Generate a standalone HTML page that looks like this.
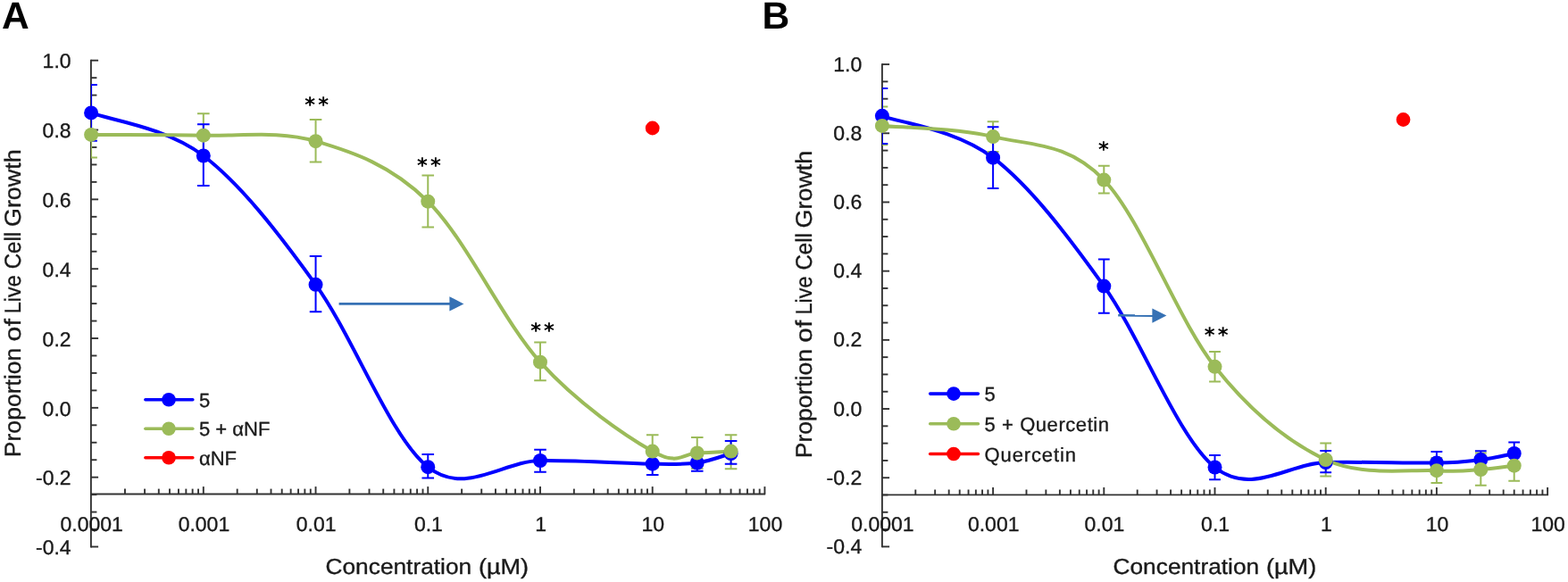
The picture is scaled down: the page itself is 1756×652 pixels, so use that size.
<!DOCTYPE html>
<html><head><meta charset="utf-8"><title>Proportion of Live Cell Growth</title>
<style>html,body{margin:0;padding:0;background:#fff;}svg{display:block;}</style></head>
<body><svg width="1756" height="652" viewBox="0 0 1756 652" text-rendering="geometricPrecision">
<style>.w{stroke:#1a1a1a;stroke-width:0.35px}</style>
<rect width="1756" height="652" fill="#fff"/>
<g stroke="#333333" stroke-width="1.9" fill="none"><line x1="101.90" y1="66.75" x2="101.90" y2="613.45"/><line x1="101.90" y1="67.70" x2="110.10" y2="67.70"/><line x1="101.90" y1="87.16" x2="108.40" y2="87.16"/><line x1="101.90" y1="106.61" x2="108.40" y2="106.61"/><line x1="101.90" y1="126.07" x2="108.40" y2="126.07"/><line x1="101.90" y1="145.53" x2="110.10" y2="145.53"/><line x1="101.90" y1="164.99" x2="108.40" y2="164.99"/><line x1="101.90" y1="184.44" x2="108.40" y2="184.44"/><line x1="101.90" y1="203.90" x2="108.40" y2="203.90"/><line x1="101.90" y1="223.36" x2="110.10" y2="223.36"/><line x1="101.90" y1="242.81" x2="108.40" y2="242.81"/><line x1="101.90" y1="262.27" x2="108.40" y2="262.27"/><line x1="101.90" y1="281.73" x2="108.40" y2="281.73"/><line x1="101.90" y1="301.19" x2="110.10" y2="301.19"/><line x1="101.90" y1="320.64" x2="108.40" y2="320.64"/><line x1="101.90" y1="340.10" x2="108.40" y2="340.10"/><line x1="101.90" y1="359.56" x2="108.40" y2="359.56"/><line x1="101.90" y1="379.01" x2="110.10" y2="379.01"/><line x1="101.90" y1="398.47" x2="108.40" y2="398.47"/><line x1="101.90" y1="417.93" x2="108.40" y2="417.93"/><line x1="101.90" y1="437.39" x2="108.40" y2="437.39"/><line x1="101.90" y1="456.84" x2="110.10" y2="456.84"/><line x1="101.90" y1="476.30" x2="108.40" y2="476.30"/><line x1="101.90" y1="495.76" x2="108.40" y2="495.76"/><line x1="101.90" y1="515.21" x2="108.40" y2="515.21"/><line x1="101.90" y1="534.67" x2="110.10" y2="534.67"/><line x1="101.90" y1="554.13" x2="108.40" y2="554.13"/><line x1="101.90" y1="573.59" x2="108.40" y2="573.59"/><line x1="101.90" y1="593.04" x2="108.40" y2="593.04"/><line x1="101.90" y1="612.50" x2="110.10" y2="612.50"/><line x1="101.90" y1="553.50" x2="857.15" y2="553.50"/><line x1="139.95" y1="553.50" x2="139.95" y2="547.60"/><line x1="162.08" y1="553.50" x2="162.08" y2="547.60"/><line x1="177.79" y1="553.50" x2="177.79" y2="547.60"/><line x1="189.97" y1="553.50" x2="189.97" y2="547.60"/><line x1="199.93" y1="553.50" x2="199.93" y2="547.60"/><line x1="208.35" y1="553.50" x2="208.35" y2="547.60"/><line x1="215.64" y1="553.50" x2="215.64" y2="547.60"/><line x1="222.07" y1="553.50" x2="222.07" y2="547.60"/><line x1="227.82" y1="553.50" x2="227.82" y2="545.10"/><line x1="265.67" y1="553.50" x2="265.67" y2="547.60"/><line x1="287.80" y1="553.50" x2="287.80" y2="547.60"/><line x1="303.51" y1="553.50" x2="303.51" y2="547.60"/><line x1="315.69" y1="553.50" x2="315.69" y2="547.60"/><line x1="325.65" y1="553.50" x2="325.65" y2="547.60"/><line x1="334.07" y1="553.50" x2="334.07" y2="547.60"/><line x1="341.36" y1="553.50" x2="341.36" y2="547.60"/><line x1="347.79" y1="553.50" x2="347.79" y2="547.60"/><line x1="353.54" y1="553.50" x2="353.54" y2="545.10"/><line x1="391.39" y1="553.50" x2="391.39" y2="547.60"/><line x1="413.52" y1="553.50" x2="413.52" y2="547.60"/><line x1="429.23" y1="553.50" x2="429.23" y2="547.60"/><line x1="441.41" y1="553.50" x2="441.41" y2="547.60"/><line x1="451.37" y1="553.50" x2="451.37" y2="547.60"/><line x1="459.79" y1="553.50" x2="459.79" y2="547.60"/><line x1="467.08" y1="553.50" x2="467.08" y2="547.60"/><line x1="473.51" y1="553.50" x2="473.51" y2="547.60"/><line x1="479.26" y1="553.50" x2="479.26" y2="545.10"/><line x1="517.11" y1="553.50" x2="517.11" y2="547.60"/><line x1="539.24" y1="553.50" x2="539.24" y2="547.60"/><line x1="554.95" y1="553.50" x2="554.95" y2="547.60"/><line x1="567.13" y1="553.50" x2="567.13" y2="547.60"/><line x1="577.09" y1="553.50" x2="577.09" y2="547.60"/><line x1="585.51" y1="553.50" x2="585.51" y2="547.60"/><line x1="592.80" y1="553.50" x2="592.80" y2="547.60"/><line x1="599.23" y1="553.50" x2="599.23" y2="547.60"/><line x1="604.98" y1="553.50" x2="604.98" y2="545.10"/><line x1="642.83" y1="553.50" x2="642.83" y2="547.60"/><line x1="664.96" y1="553.50" x2="664.96" y2="547.60"/><line x1="680.67" y1="553.50" x2="680.67" y2="547.60"/><line x1="692.85" y1="553.50" x2="692.85" y2="547.60"/><line x1="702.81" y1="553.50" x2="702.81" y2="547.60"/><line x1="711.23" y1="553.50" x2="711.23" y2="547.60"/><line x1="718.52" y1="553.50" x2="718.52" y2="547.60"/><line x1="724.95" y1="553.50" x2="724.95" y2="547.60"/><line x1="730.70" y1="553.50" x2="730.70" y2="545.10"/><line x1="768.55" y1="553.50" x2="768.55" y2="547.60"/><line x1="790.68" y1="553.50" x2="790.68" y2="547.60"/><line x1="806.39" y1="553.50" x2="806.39" y2="547.60"/><line x1="818.57" y1="553.50" x2="818.57" y2="547.60"/><line x1="828.53" y1="553.50" x2="828.53" y2="547.60"/><line x1="836.95" y1="553.50" x2="836.95" y2="547.60"/><line x1="844.24" y1="553.50" x2="844.24" y2="547.60"/><line x1="850.67" y1="553.50" x2="850.67" y2="547.60"/><line x1="856.42" y1="553.50" x2="856.42" y2="545.10"/></g>
<g class="w" font-family="'Liberation Sans', Arial, sans-serif" font-size="22.6" fill="#1a1a1a"><text x="79.60" y="76.40" text-anchor="end" textLength="31.97" lengthAdjust="spacingAndGlyphs">1.0</text><text x="79.60" y="154.23" text-anchor="end" textLength="31.97" lengthAdjust="spacingAndGlyphs">0.8</text><text x="79.60" y="232.06" text-anchor="end" textLength="31.97" lengthAdjust="spacingAndGlyphs">0.6</text><text x="79.60" y="309.89" text-anchor="end" textLength="31.97" lengthAdjust="spacingAndGlyphs">0.4</text><text x="79.60" y="387.71" text-anchor="end" textLength="31.97" lengthAdjust="spacingAndGlyphs">0.2</text><text x="79.60" y="465.54" text-anchor="end" textLength="31.97" lengthAdjust="spacingAndGlyphs">0.0</text><text x="79.60" y="543.37" text-anchor="end" textLength="39.63" lengthAdjust="spacingAndGlyphs">-0.2</text><text x="79.60" y="621.20" text-anchor="end" textLength="39.63" lengthAdjust="spacingAndGlyphs">-0.4</text><text x="102.70" y="595.00" text-anchor="middle" textLength="70.33" lengthAdjust="spacingAndGlyphs">0.0001</text><text x="228.42" y="595.00" text-anchor="middle" textLength="57.55" lengthAdjust="spacingAndGlyphs">0.001</text><text x="354.14" y="595.00" text-anchor="middle" textLength="44.76" lengthAdjust="spacingAndGlyphs">0.01</text><text x="479.86" y="595.00" text-anchor="middle" textLength="31.97" lengthAdjust="spacingAndGlyphs">0.1</text><text x="605.58" y="595.00" text-anchor="middle" textLength="12.79" lengthAdjust="spacingAndGlyphs">1</text><text x="731.30" y="595.00" text-anchor="middle" textLength="25.58" lengthAdjust="spacingAndGlyphs">10</text><text x="857.02" y="595.00" text-anchor="middle" textLength="38.36" lengthAdjust="spacingAndGlyphs">100</text></g>
<text class="w" x="364.50" y="643.30" font-family="'Liberation Sans', Arial, sans-serif" font-size="24.5" fill="#1a1a1a" textLength="163.70" lengthAdjust="spacingAndGlyphs">Concentration</text>
<text class="w" x="535.90" y="643.30" font-family="'Liberation Sans', Arial, sans-serif" font-size="24.5" fill="#1a1a1a" textLength="56.20" lengthAdjust="spacingAndGlyphs">(µM)</text>
<text class="w" transform="translate(23.00,512.20) rotate(-90)" x="0" y="0" font-family="'Liberation Sans', Arial, sans-serif" font-size="25.5" fill="#1a1a1a" textLength="122.60" lengthAdjust="spacingAndGlyphs">Proportion</text>
<text class="w" transform="translate(23.00,382.40) rotate(-90)" x="0" y="0" font-family="'Liberation Sans', Arial, sans-serif" font-size="25.5" fill="#1a1a1a" textLength="25.30" lengthAdjust="spacingAndGlyphs">of</text>
<text class="w" transform="translate(23.00,351.20) rotate(-90)" x="0" y="0" font-family="'Liberation Sans', Arial, sans-serif" font-size="25.5" fill="#1a1a1a" textLength="42.90" lengthAdjust="spacingAndGlyphs">Live</text>
<text class="w" transform="translate(23.00,301.30) rotate(-90)" x="0" y="0" font-family="'Liberation Sans', Arial, sans-serif" font-size="25.5" fill="#1a1a1a" textLength="41.50" lengthAdjust="spacingAndGlyphs">Cell</text>
<text class="w" transform="translate(23.00,254.00) rotate(-90)" x="0" y="0" font-family="'Liberation Sans', Arial, sans-serif" font-size="25.5" fill="#1a1a1a" textLength="86.60" lengthAdjust="spacingAndGlyphs">Growth</text>
<text x="2.00" y="31.5" font-family="'Liberation Sans', Arial, sans-serif" font-size="42.5" font-weight="bold" fill="#000">A</text>
<clipPath id="clipA"><rect x="101.90" y="0" width="764.30" height="652"/></clipPath>
<path d="M102.10,126.40 C123.05,134.42 185.91,142.43 227.82,174.50 C269.73,206.57 311.63,260.68 353.54,318.80 C395.45,376.92 437.35,490.33 479.26,523.20 C521.17,556.07 563.07,516.58 604.98,516.00 C646.89,515.42 701.41,519.28 730.70,519.70 C759.99,520.12 766.08,520.45 780.73,518.50 C795.37,516.55 812.27,509.75 818.57,508.00" stroke="#0000ff" stroke-width="4" fill="none" stroke-linejoin="round"/>
<path d="M102.10,150.90 C123.05,151.03 185.91,150.48 227.82,151.70 C269.73,152.92 311.63,145.87 353.54,158.20 C395.45,170.53 437.35,184.45 479.26,225.70 C521.17,266.95 563.07,359.05 604.98,405.70 C646.89,452.35 701.41,488.65 730.70,505.60 C759.99,522.55 766.08,507.40 780.73,507.40 C795.37,507.40 812.27,505.90 818.57,505.60" stroke="#9bbb59" stroke-width="4" fill="none" stroke-linejoin="round"/>
<path d="M102.10,125.30V176.50M95.30,125.30H108.90M95.30,176.50H108.90M227.82,127.20V176.20M221.02,127.20H234.62M221.02,176.20H234.62M353.54,134.10V181.40M346.74,134.10H360.34M346.74,181.40H360.34M479.26,196.50V254.50M472.46,196.50H486.06M472.46,254.50H486.06M604.98,383.40V426.30M598.18,383.40H611.78M598.18,426.30H611.78M730.70,487.20V524.00M723.90,487.20H737.50M723.90,524.00H737.50M780.73,490.00V524.80M773.93,490.00H787.53M773.93,524.80H787.53M818.57,487.20V525.20M811.77,487.20H825.37M811.77,525.20H825.37" stroke="#9bbb59" stroke-width="2" fill="none" clip-path="url(#clipA)"/>
<path d="M102.10,95.00V157.80M95.30,95.00H108.90M95.30,157.80H108.90M227.82,139.25V208.05M221.02,139.25H234.62M221.02,208.05H234.62M353.54,286.95V349.35M346.74,286.95H360.34M346.74,349.35H360.34M479.26,509.00V535.60M472.46,509.00H486.06M472.46,535.60H486.06M604.98,503.65V528.85M598.18,503.65H611.78M598.18,528.85H611.78M730.70,507.40V532.00M723.90,507.40H737.50M723.90,532.00H737.50M780.73,509.30V527.70M773.93,509.30H787.53M773.93,527.70H787.53M818.57,494.05V519.75M811.77,494.05H825.37M811.77,519.75H825.37" stroke="#0000ff" stroke-width="2" fill="none" clip-path="url(#clipA)"/>
<circle cx="102.10" cy="126.40" r="8" fill="#0000ff"/>
<circle cx="227.82" cy="174.50" r="8" fill="#0000ff"/>
<circle cx="353.54" cy="318.80" r="8" fill="#0000ff"/>
<circle cx="479.26" cy="523.20" r="8" fill="#0000ff"/>
<circle cx="604.98" cy="516.00" r="8" fill="#0000ff"/>
<circle cx="730.70" cy="519.70" r="8" fill="#0000ff"/>
<circle cx="780.73" cy="518.50" r="8" fill="#0000ff"/>
<circle cx="818.57" cy="508.00" r="8" fill="#0000ff"/>
<circle cx="102.10" cy="150.90" r="8" fill="#9bbb59"/>
<circle cx="227.82" cy="151.70" r="8" fill="#9bbb59"/>
<circle cx="353.54" cy="158.20" r="8" fill="#9bbb59"/>
<circle cx="479.26" cy="225.70" r="8" fill="#9bbb59"/>
<circle cx="604.98" cy="405.70" r="8" fill="#9bbb59"/>
<circle cx="730.70" cy="505.60" r="8" fill="#9bbb59"/>
<circle cx="780.73" cy="507.40" r="8" fill="#9bbb59"/>
<circle cx="818.57" cy="505.60" r="8" fill="#9bbb59"/>
<circle cx="730.70" cy="143.50" r="7.9" fill="#ff0000"/>
<line x1="162.90" y1="447.80" x2="215.80" y2="447.80" stroke="#0000ff" stroke-width="3.6" stroke-linecap="round"/>
<circle cx="189.00" cy="447.80" r="7.8" fill="#0000ff"/>
<text class="w" x="223.00" y="455.80" font-family="'Liberation Sans', Arial, sans-serif" font-size="22" fill="#1a1a1a">5</text>
<line x1="162.90" y1="480.30" x2="215.80" y2="480.30" stroke="#9bbb59" stroke-width="3.6" stroke-linecap="round"/>
<circle cx="189.00" cy="480.30" r="7.8" fill="#9bbb59"/>
<text class="w" x="223.00" y="488.30" font-family="'Liberation Sans', Arial, sans-serif" font-size="22" fill="#1a1a1a">5 + αNF</text>
<line x1="162.90" y1="512.80" x2="215.80" y2="512.80" stroke="#ff0000" stroke-width="3.6" stroke-linecap="round"/>
<circle cx="189.00" cy="512.80" r="7.8" fill="#ff0000"/>
<text class="w" x="223.00" y="520.80" font-family="'Liberation Sans', Arial, sans-serif" font-size="22" fill="#1a1a1a">αNF</text>
<line x1="379.60" y1="340.40" x2="504.40" y2="340.40" stroke="#3671b4" stroke-width="2.6"/>
<path d="M503.40,332.20 L519.40,340.40 L503.40,348.60 Z" fill="#3671b4"/>
<text x="347.10 362.20" y="124.80" font-family="'DejaVu Sans', sans-serif" font-weight="bold" font-size="22.5" fill="#000" text-anchor="middle">**</text>
<text x="473.00 487.90" y="192.50" font-family="'DejaVu Sans', sans-serif" font-weight="bold" font-size="22.5" fill="#000" text-anchor="middle">**</text>
<text x="600.10 614.90" y="377.80" font-family="'DejaVu Sans', sans-serif" font-weight="bold" font-size="22.5" fill="#000" text-anchor="middle">**</text>
<g stroke="#333333" stroke-width="1.9" fill="none"><line x1="987.90" y1="71.15" x2="987.90" y2="613.35"/><line x1="987.90" y1="72.10" x2="996.10" y2="72.10"/><line x1="987.90" y1="91.40" x2="994.40" y2="91.40"/><line x1="987.90" y1="110.69" x2="994.40" y2="110.69"/><line x1="987.90" y1="129.99" x2="994.40" y2="129.99"/><line x1="987.90" y1="149.29" x2="996.10" y2="149.29"/><line x1="987.90" y1="168.58" x2="994.40" y2="168.58"/><line x1="987.90" y1="187.88" x2="994.40" y2="187.88"/><line x1="987.90" y1="207.18" x2="994.40" y2="207.18"/><line x1="987.90" y1="226.47" x2="996.10" y2="226.47"/><line x1="987.90" y1="245.77" x2="994.40" y2="245.77"/><line x1="987.90" y1="265.06" x2="994.40" y2="265.06"/><line x1="987.90" y1="284.36" x2="994.40" y2="284.36"/><line x1="987.90" y1="303.66" x2="996.10" y2="303.66"/><line x1="987.90" y1="322.95" x2="994.40" y2="322.95"/><line x1="987.90" y1="342.25" x2="994.40" y2="342.25"/><line x1="987.90" y1="361.55" x2="994.40" y2="361.55"/><line x1="987.90" y1="380.84" x2="996.10" y2="380.84"/><line x1="987.90" y1="400.14" x2="994.40" y2="400.14"/><line x1="987.90" y1="419.44" x2="994.40" y2="419.44"/><line x1="987.90" y1="438.73" x2="994.40" y2="438.73"/><line x1="987.90" y1="458.03" x2="996.10" y2="458.03"/><line x1="987.90" y1="477.33" x2="994.40" y2="477.33"/><line x1="987.90" y1="496.62" x2="994.40" y2="496.62"/><line x1="987.90" y1="515.92" x2="994.40" y2="515.92"/><line x1="987.90" y1="535.21" x2="996.10" y2="535.21"/><line x1="987.90" y1="554.51" x2="994.40" y2="554.51"/><line x1="987.90" y1="573.81" x2="994.40" y2="573.81"/><line x1="987.90" y1="593.10" x2="994.40" y2="593.10"/><line x1="987.90" y1="612.40" x2="996.10" y2="612.40"/><line x1="987.90" y1="554.40" x2="1734.05" y2="554.40"/><line x1="1025.29" y1="554.40" x2="1025.29" y2="548.50"/><line x1="1047.16" y1="554.40" x2="1047.16" y2="548.50"/><line x1="1062.68" y1="554.40" x2="1062.68" y2="548.50"/><line x1="1074.71" y1="554.40" x2="1074.71" y2="548.50"/><line x1="1084.55" y1="554.40" x2="1084.55" y2="548.50"/><line x1="1092.86" y1="554.40" x2="1092.86" y2="548.50"/><line x1="1100.06" y1="554.40" x2="1100.06" y2="548.50"/><line x1="1106.42" y1="554.40" x2="1106.42" y2="548.50"/><line x1="1112.10" y1="554.40" x2="1112.10" y2="546.00"/><line x1="1149.49" y1="554.40" x2="1149.49" y2="548.50"/><line x1="1171.36" y1="554.40" x2="1171.36" y2="548.50"/><line x1="1186.88" y1="554.40" x2="1186.88" y2="548.50"/><line x1="1198.91" y1="554.40" x2="1198.91" y2="548.50"/><line x1="1208.75" y1="554.40" x2="1208.75" y2="548.50"/><line x1="1217.06" y1="554.40" x2="1217.06" y2="548.50"/><line x1="1224.26" y1="554.40" x2="1224.26" y2="548.50"/><line x1="1230.62" y1="554.40" x2="1230.62" y2="548.50"/><line x1="1236.30" y1="554.40" x2="1236.30" y2="546.00"/><line x1="1273.69" y1="554.40" x2="1273.69" y2="548.50"/><line x1="1295.56" y1="554.40" x2="1295.56" y2="548.50"/><line x1="1311.08" y1="554.40" x2="1311.08" y2="548.50"/><line x1="1323.11" y1="554.40" x2="1323.11" y2="548.50"/><line x1="1332.95" y1="554.40" x2="1332.95" y2="548.50"/><line x1="1341.26" y1="554.40" x2="1341.26" y2="548.50"/><line x1="1348.46" y1="554.40" x2="1348.46" y2="548.50"/><line x1="1354.82" y1="554.40" x2="1354.82" y2="548.50"/><line x1="1360.50" y1="554.40" x2="1360.50" y2="546.00"/><line x1="1397.89" y1="554.40" x2="1397.89" y2="548.50"/><line x1="1419.76" y1="554.40" x2="1419.76" y2="548.50"/><line x1="1435.28" y1="554.40" x2="1435.28" y2="548.50"/><line x1="1447.31" y1="554.40" x2="1447.31" y2="548.50"/><line x1="1457.15" y1="554.40" x2="1457.15" y2="548.50"/><line x1="1465.46" y1="554.40" x2="1465.46" y2="548.50"/><line x1="1472.66" y1="554.40" x2="1472.66" y2="548.50"/><line x1="1479.02" y1="554.40" x2="1479.02" y2="548.50"/><line x1="1484.70" y1="554.40" x2="1484.70" y2="546.00"/><line x1="1522.09" y1="554.40" x2="1522.09" y2="548.50"/><line x1="1543.96" y1="554.40" x2="1543.96" y2="548.50"/><line x1="1559.48" y1="554.40" x2="1559.48" y2="548.50"/><line x1="1571.51" y1="554.40" x2="1571.51" y2="548.50"/><line x1="1581.35" y1="554.40" x2="1581.35" y2="548.50"/><line x1="1589.66" y1="554.40" x2="1589.66" y2="548.50"/><line x1="1596.86" y1="554.40" x2="1596.86" y2="548.50"/><line x1="1603.22" y1="554.40" x2="1603.22" y2="548.50"/><line x1="1608.90" y1="554.40" x2="1608.90" y2="546.00"/><line x1="1646.29" y1="554.40" x2="1646.29" y2="548.50"/><line x1="1668.16" y1="554.40" x2="1668.16" y2="548.50"/><line x1="1683.68" y1="554.40" x2="1683.68" y2="548.50"/><line x1="1695.71" y1="554.40" x2="1695.71" y2="548.50"/><line x1="1705.55" y1="554.40" x2="1705.55" y2="548.50"/><line x1="1713.86" y1="554.40" x2="1713.86" y2="548.50"/><line x1="1721.06" y1="554.40" x2="1721.06" y2="548.50"/><line x1="1727.42" y1="554.40" x2="1727.42" y2="548.50"/><line x1="1733.10" y1="554.40" x2="1733.10" y2="546.00"/></g>
<g class="w" font-family="'Liberation Sans', Arial, sans-serif" font-size="22.6" fill="#1a1a1a"><text x="965.20" y="79.60" text-anchor="end" textLength="31.97" lengthAdjust="spacingAndGlyphs">1.0</text><text x="965.20" y="156.79" text-anchor="end" textLength="31.97" lengthAdjust="spacingAndGlyphs">0.8</text><text x="965.20" y="233.97" text-anchor="end" textLength="31.97" lengthAdjust="spacingAndGlyphs">0.6</text><text x="965.20" y="311.16" text-anchor="end" textLength="31.97" lengthAdjust="spacingAndGlyphs">0.4</text><text x="965.20" y="388.34" text-anchor="end" textLength="31.97" lengthAdjust="spacingAndGlyphs">0.2</text><text x="965.20" y="465.53" text-anchor="end" textLength="31.97" lengthAdjust="spacingAndGlyphs">0.0</text><text x="965.20" y="542.71" text-anchor="end" textLength="39.63" lengthAdjust="spacingAndGlyphs">-0.2</text><text x="965.20" y="619.90" text-anchor="end" textLength="39.63" lengthAdjust="spacingAndGlyphs">-0.4</text><text x="988.50" y="595.00" text-anchor="middle" textLength="70.33" lengthAdjust="spacingAndGlyphs">0.0001</text><text x="1112.70" y="595.00" text-anchor="middle" textLength="57.55" lengthAdjust="spacingAndGlyphs">0.001</text><text x="1236.90" y="595.00" text-anchor="middle" textLength="44.76" lengthAdjust="spacingAndGlyphs">0.01</text><text x="1361.10" y="595.00" text-anchor="middle" textLength="31.97" lengthAdjust="spacingAndGlyphs">0.1</text><text x="1485.30" y="595.00" text-anchor="middle" textLength="12.79" lengthAdjust="spacingAndGlyphs">1</text><text x="1609.50" y="595.00" text-anchor="middle" textLength="25.58" lengthAdjust="spacingAndGlyphs">10</text><text x="1733.70" y="595.00" text-anchor="middle" textLength="38.36" lengthAdjust="spacingAndGlyphs">100</text></g>
<text class="w" x="1246.50" y="643.30" font-family="'Liberation Sans', Arial, sans-serif" font-size="24.5" fill="#1a1a1a" textLength="163.70" lengthAdjust="spacingAndGlyphs">Concentration</text>
<text class="w" x="1417.90" y="643.30" font-family="'Liberation Sans', Arial, sans-serif" font-size="24.5" fill="#1a1a1a" textLength="56.40" lengthAdjust="spacingAndGlyphs">(µM)</text>
<text class="w" transform="translate(908.50,513.30) rotate(-90)" x="0" y="0" font-family="'Liberation Sans', Arial, sans-serif" font-size="25.5" fill="#1a1a1a" textLength="122.40" lengthAdjust="spacingAndGlyphs">Proportion</text>
<text class="w" transform="translate(908.50,383.70) rotate(-90)" x="0" y="0" font-family="'Liberation Sans', Arial, sans-serif" font-size="25.5" fill="#1a1a1a" textLength="24.90" lengthAdjust="spacingAndGlyphs">of</text>
<text class="w" transform="translate(908.50,352.50) rotate(-90)" x="0" y="0" font-family="'Liberation Sans', Arial, sans-serif" font-size="25.5" fill="#1a1a1a" textLength="42.90" lengthAdjust="spacingAndGlyphs">Live</text>
<text class="w" transform="translate(908.50,302.50) rotate(-90)" x="0" y="0" font-family="'Liberation Sans', Arial, sans-serif" font-size="25.5" fill="#1a1a1a" textLength="41.30" lengthAdjust="spacingAndGlyphs">Cell</text>
<text class="w" transform="translate(908.50,255.40) rotate(-90)" x="0" y="0" font-family="'Liberation Sans', Arial, sans-serif" font-size="25.5" fill="#1a1a1a" textLength="86.60" lengthAdjust="spacingAndGlyphs">Growth</text>
<text x="853.50" y="31.5" font-family="'Liberation Sans', Arial, sans-serif" font-size="42.5" font-weight="bold" fill="#000">B</text>
<clipPath id="clipB"><rect x="987.90" y="0" width="755.20" height="652"/></clipPath>
<path d="M987.90,129.80 C1008.60,137.62 1070.70,144.90 1112.10,176.70 C1153.50,208.50 1194.90,262.80 1236.30,320.60 C1277.70,378.40 1319.10,490.60 1360.50,523.50 C1401.90,556.40 1443.30,518.83 1484.70,518.00 C1526.10,517.17 1579.96,519.00 1608.90,518.50 C1637.84,518.00 1643.86,516.75 1658.32,515.00 C1672.79,513.25 1689.48,509.17 1695.71,508.00" stroke="#0000ff" stroke-width="4" fill="none" stroke-linejoin="round"/>
<path d="M987.90,140.90 C1008.60,142.93 1070.70,142.98 1112.10,153.10 C1153.50,163.22 1194.90,158.65 1236.30,201.60 C1277.70,244.55 1319.10,358.57 1360.50,410.80 C1401.90,463.03 1443.30,495.60 1484.70,515.00 C1526.10,534.40 1579.96,525.37 1608.90,527.20 C1637.84,529.03 1643.86,526.92 1658.32,526.00 C1672.79,525.08 1689.48,522.42 1695.71,521.70" stroke="#9bbb59" stroke-width="4" fill="none" stroke-linejoin="round"/>
<path d="M987.90,119.50V162.30M981.50,119.50H994.30M981.50,162.30H994.30M1112.10,136.30V169.90M1105.70,136.30H1118.50M1105.70,169.90H1118.50M1236.30,185.70V216.60M1229.90,185.70H1242.70M1229.90,216.60H1242.70M1360.50,394.00V427.60M1354.10,394.00H1366.90M1354.10,427.60H1366.90M1484.70,496.60V533.40M1478.30,496.60H1491.10M1478.30,533.40H1491.10M1608.90,512.90V541.10M1602.50,512.90H1615.30M1602.50,541.10H1615.30M1658.32,507.60V543.80M1651.92,507.60H1664.72M1651.92,543.80H1664.72M1695.71,504.70V538.70M1689.31,504.70H1702.11M1689.31,538.70H1702.11" stroke="#9bbb59" stroke-width="2" fill="none" clip-path="url(#clipB)"/>
<path d="M987.90,99.10V160.90M981.50,99.10H994.30M981.50,160.90H994.30M1112.10,142.30V211.00M1105.70,142.30H1118.50M1105.70,211.00H1118.50M1236.30,290.50V350.70M1229.90,290.50H1242.70M1229.90,350.70H1242.70M1360.50,510.10V537.30M1354.10,510.10H1366.90M1354.10,537.30H1366.90M1484.70,504.90V529.30M1478.30,504.90H1491.10M1478.30,529.30H1491.10M1608.90,506.10V530.90M1602.50,506.10H1615.30M1602.50,530.90H1615.30M1658.32,505.20V524.80M1651.92,505.20H1664.72M1651.92,524.80H1664.72M1695.71,495.40V520.60M1689.31,495.40H1702.11M1689.31,520.60H1702.11" stroke="#0000ff" stroke-width="2" fill="none" clip-path="url(#clipB)"/>
<circle cx="987.90" cy="129.80" r="8" fill="#0000ff"/>
<circle cx="1112.10" cy="176.70" r="8" fill="#0000ff"/>
<circle cx="1236.30" cy="320.60" r="8" fill="#0000ff"/>
<circle cx="1360.50" cy="523.50" r="8" fill="#0000ff"/>
<circle cx="1484.70" cy="518.00" r="8" fill="#0000ff"/>
<circle cx="1608.90" cy="518.50" r="8" fill="#0000ff"/>
<circle cx="1658.32" cy="515.00" r="8" fill="#0000ff"/>
<circle cx="1695.71" cy="508.00" r="8" fill="#0000ff"/>
<circle cx="987.90" cy="140.90" r="8" fill="#9bbb59"/>
<circle cx="1112.10" cy="153.10" r="8" fill="#9bbb59"/>
<circle cx="1236.30" cy="201.60" r="8" fill="#9bbb59"/>
<circle cx="1360.50" cy="410.80" r="8" fill="#9bbb59"/>
<circle cx="1484.70" cy="515.00" r="8" fill="#9bbb59"/>
<circle cx="1608.90" cy="527.20" r="8" fill="#9bbb59"/>
<circle cx="1658.32" cy="526.00" r="8" fill="#9bbb59"/>
<circle cx="1695.71" cy="521.70" r="8" fill="#9bbb59"/>
<circle cx="1571.51" cy="134.00" r="7.9" fill="#ff0000"/>
<line x1="1041.70" y1="441.10" x2="1095.40" y2="441.10" stroke="#0000ff" stroke-width="3.6" stroke-linecap="round"/>
<circle cx="1068.00" cy="441.10" r="7.8" fill="#0000ff"/>
<text class="w" x="1102.60" y="449.10" font-family="'Liberation Sans', Arial, sans-serif" font-size="22" fill="#1a1a1a">5</text>
<line x1="1041.70" y1="474.80" x2="1095.40" y2="474.80" stroke="#9bbb59" stroke-width="3.6" stroke-linecap="round"/>
<circle cx="1068.00" cy="474.80" r="7.8" fill="#9bbb59"/>
<text class="w" x="1102.60" y="482.80" font-family="'Liberation Sans', Arial, sans-serif" font-size="22" fill="#1a1a1a" textLength="139.4" lengthAdjust="spacing">5 + Quercetin</text>
<line x1="1041.70" y1="508.50" x2="1095.40" y2="508.50" stroke="#ff0000" stroke-width="3.6" stroke-linecap="round"/>
<circle cx="1068.00" cy="508.50" r="7.8" fill="#ff0000"/>
<text class="w" x="1102.60" y="516.50" font-family="'Liberation Sans', Arial, sans-serif" font-size="22" fill="#1a1a1a" textLength="102.3" lengthAdjust="spacing">Quercetin</text>
<line x1="1252.20" y1="353.30" x2="1291.40" y2="353.60" stroke="#3671b4" stroke-width="2.6"/>
<path d="M1290.40,345.40 L1306.40,353.60 L1290.40,361.80 Z" fill="#3671b4"/>
<text x="1235.80" y="174.80" font-family="'DejaVu Sans', sans-serif" font-weight="bold" font-size="22.5" fill="#000" text-anchor="middle">*</text>
<text x="1354.70 1369.60" y="383.20" font-family="'DejaVu Sans', sans-serif" font-weight="bold" font-size="22.5" fill="#000" text-anchor="middle">**</text>
</svg></body></html>
